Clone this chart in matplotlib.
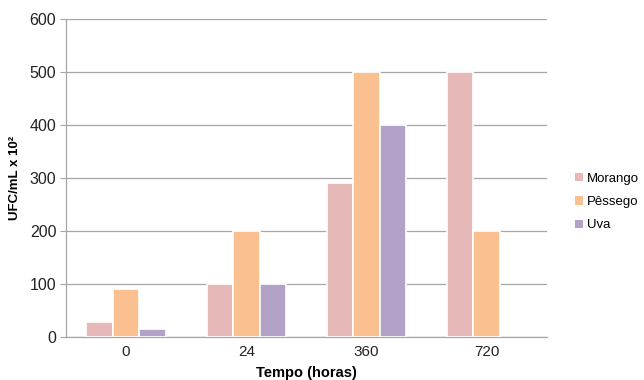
import matplotlib.pyplot as plt
import numpy as np
from matplotlib.patches import Patch

categories = ["0", "24", "360", "720"]
series_names = ["Morango", "Pêssego", "Uva"]
morango = [28, 100, 290, 500]
pessego = [90, 200, 500, 200]
uva = [15, 100, 400, np.nan]
colors = ["#E6B9B8", "#FAC090", "#B3A2C7"]

plt.rcParams['font.family'] = ['Liberation Sans', 'DejaVu Sans']

fig = plt.figure(figsize=(6.44, 3.8), dpi=100)
ax = fig.add_axes([0.1025, 0.1132, 0.7465, 0.8368])

x = np.arange(len(categories))
w = 0.22
for i, (vals, c) in enumerate(zip([morango, pessego, uva], colors)):
    ax.bar(x + (i - 1) * w, vals, width=w, color=c, edgecolor="white", linewidth=1.2, zorder=3)

ax.set_xlim(-0.5, len(categories) - 0.5)
ax.set_ylim(0, 600)
ax.set_yticks(range(0, 601, 100))
ax.set_xticks(x)
ax.set_xticklabels(categories)
ax.yaxis.grid(True, color="#A6A6A6", linewidth=0.9, zorder=0)
ax.set_axisbelow(True)
for s in ["top", "right"]:
    ax.spines[s].set_visible(False)
for s in ["left", "bottom"]:
    ax.spines[s].set_color("#A6A6A6")
    ax.spines[s].set_linewidth(0.9)
ax.tick_params(axis="y", length=4, color="#A6A6A6", labelsize=11.5, labelcolor="#222222", pad=3)
ax.tick_params(axis="x", length=0, labelsize=11, labelcolor="#222222", pad=6)

ax.set_ylabel("UFC/mL x 10²", fontsize=9.5, fontweight="bold", labelpad=6)
ax.set_xlabel("Tempo (horas)", fontsize=10.5, fontweight="bold", labelpad=5)

handles = [Patch(facecolor=c, edgecolor="none") for c in colors]
fig.legend(handles, series_names, loc="center left", bbox_to_anchor=(0.893, 0.468),
           frameon=False, fontsize=9.5, handlelength=0.6, handleheight=0.6,
           handletextpad=0.3, labelspacing=0.85, borderpad=0, borderaxespad=0)

fig.savefig("out.png", dpi=100)
